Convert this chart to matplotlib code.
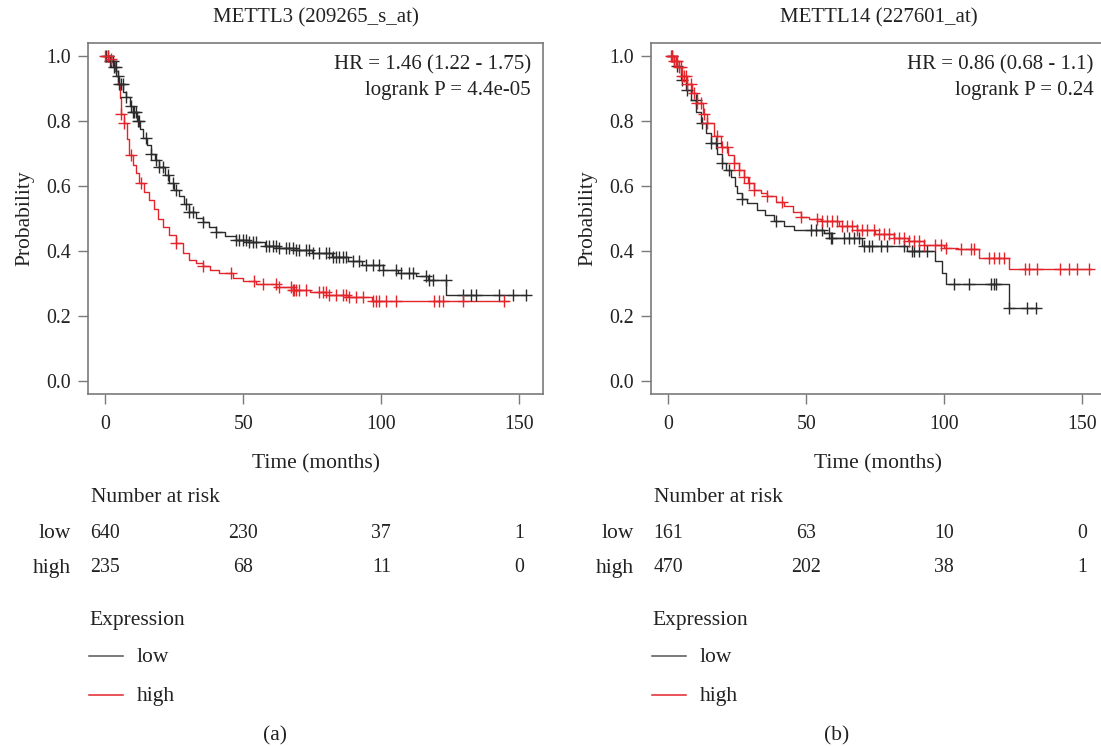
import numpy as np
import matplotlib
matplotlib.use("Agg")
import matplotlib.pyplot as plt
import matplotlib.transforms as mtrans

plt.rcParams['font.family'] = ['Liberation Serif', 'DejaVu Serif']

W, H = 1101, 746

# ---------------- data ----------------
titles = ["METTL3 (209265_s_at)", "METTL14 (227601_at)"]
hr_texts = [["HR = 1.46 (1.22 - 1.75)", "logrank P = 4.4e-05"],
            ["HR = 0.86 (0.68 - 1.1)", "logrank P = 0.24"]]
panel_labels = ["(a)", "(b)"]
risk_times = [0, 50, 100, 150]
groups = ["low", "high"]

# Panel a: low expression (black)
a_low_t = [0, 1.5, 3, 4, 5, 6.5, 7.5, 9, 10, 11.5, 12.5, 13.5, 15, 16.5, 18, 19.6, 21.5,
           23.2, 25, 26.8, 28.5, 30.4, 33, 35.3, 37.5, 40.1, 43.5, 47.3, 52, 58, 63, 69,
           75, 82, 88, 93, 100.5, 106, 112.6, 117, 123.6, 152.4]
a_low_s = [1.0, 0.985, 0.965, 0.94, 0.915, 0.89, 0.874, 0.845, 0.828, 0.80, 0.775, 0.748,
           0.725, 0.70, 0.68, 0.66, 0.635, 0.609, 0.588, 0.568, 0.545, 0.52, 0.503, 0.49,
           0.475, 0.46, 0.447, 0.435, 0.428, 0.414, 0.41, 0.404, 0.395, 0.383, 0.37, 0.358,
           0.343, 0.333, 0.322, 0.312, 0.264, 0.264]
a_low_cens = [0.2, 0.8, 1.5, 2.1, 2.7, 3.3, 3.9, 4.5, 5.1, 5.7, 6.3, 7.5, 9.3, 10.0, 10.5,
              11.2, 11.7, 12.3, 14.7, 16.5, 18.4, 19.6, 20.8, 22.6, 24.4, 25.6, 29.2, 30.4,
              31.6, 35.3, 40.1, 47.3, 48.5, 49.8, 51, 52.2, 53.4, 54.6, 58.2, 59.4, 60.6,
              61.8, 63, 65.5, 66.7, 67.9, 69.1, 70.3, 72.7, 73.9, 75.1, 77.5, 79.9, 81.2,
              82.4, 83.6, 84.8, 86, 87.2, 89.6, 92, 94.4, 96.9, 99.3, 100.5, 105.3, 107.1,
              110.1, 111.4, 116.2, 117.4, 118.6, 123.4, 129.5, 132.5, 134.3, 142.8, 147.6,
              152.4]

# Panel a: high expression (red)
a_high_t = [0, 1.5, 2.7, 3.5, 4.5, 5.2, 5.7, 6.9, 7.8, 8.7, 10, 11, 12.3, 14, 15.9, 17.5,
            19, 20.8, 23, 25.6, 28, 30.4, 33, 35.3, 38, 41.3, 46.1, 50, 54.6, 62, 67.9, 74,
            80, 88, 96.8, 145.8]
a_high_s = [1.0, 0.99, 0.977, 0.955, 0.915, 0.87, 0.823, 0.793, 0.745, 0.695, 0.665, 0.64,
            0.609, 0.583, 0.557, 0.53, 0.50, 0.475, 0.45, 0.424, 0.395, 0.373, 0.362, 0.353,
            0.342, 0.332, 0.317, 0.307, 0.297, 0.289, 0.281, 0.274, 0.266, 0.257, 0.245,
            0.245]
a_high_cens = [0, 1.0, 2.1, 5.7, 6.9, 9.3, 12.9, 25.6, 35.3, 45.5, 54, 57, 61.8, 63, 67.3,
               67.9, 68.5, 69.1, 70.3, 72.7, 77.5, 78.7, 79.9, 81.2, 83.6, 86, 87.2, 88.4,
               90.8, 93.2, 96.9, 98.1, 99.3, 101.7, 105.3, 119.2, 121, 122.2, 129.5, 144.6]

# Panel b: low expression (black)
b_low_t = [0, 2, 4.5, 6.5, 8.1, 10, 11.7, 13.5, 15.3, 17.5, 19.6, 21, 22.6, 24, 25, 26.8,
           28.6, 32.2, 35, 38.3, 42, 45.5, 56.4, 58.8, 70.3, 86.6, 96.8, 99.3, 100.5,
           123.4, 133.7]
b_low_s = [1.0, 0.97, 0.925, 0.895, 0.864, 0.828, 0.793, 0.762, 0.731, 0.70, 0.67, 0.65,
           0.629, 0.60, 0.578, 0.56, 0.547, 0.527, 0.51, 0.491, 0.478, 0.465, 0.455, 0.44,
           0.416, 0.399, 0.368, 0.332, 0.297, 0.225, 0.225]
b_low_cens = [1.4, 3.2, 5.1, 6.9, 9.9, 12.3, 15.3, 17.1, 19.6, 22, 26.8, 38.9, 51.6, 53.4,
              55.8, 58.2, 58.8, 59.4, 63.6, 65.4, 67.3, 69.1, 70.9, 72.7, 73.9, 77, 79.3,
              85.4, 88.4, 89, 90.8, 93.8, 103.5, 109, 116.8, 118, 118.6, 123.4, 130.1, 133.1]

# Panel b: high expression (red)
b_high_t = [0, 2, 3.3, 5, 6.9, 8.5, 10.5, 12.5, 14.1, 16.5, 19, 21.5, 23.8, 25.5, 27.4, 29,
            31, 33.5, 35.9, 39, 41.9, 45, 47.9, 51, 55.2, 62, 68.5, 75, 81.7, 87, 92.6, 100,
            105, 112.5, 123.4, 153]
b_high_s = [1.0, 0.985, 0.966, 0.94, 0.915, 0.885, 0.854, 0.823, 0.793, 0.755, 0.721,
            0.695, 0.67, 0.648, 0.629, 0.61, 0.588, 0.578, 0.568, 0.552, 0.537, 0.52, 0.506,
            0.498, 0.491, 0.478, 0.465, 0.452, 0.44, 0.43, 0.419, 0.41, 0.405, 0.378, 0.345,
            0.345]
b_high_cens = [0.8, 1.4, 2.0, 2.6, 3.2, 3.8, 4.5, 5.1, 5.7, 6.3, 6.9, 8.1, 9.3, 10.5, 11.7,
               12.9, 14.1, 17.7, 19.6, 21.4, 23.8, 25.6, 27.4, 29.2, 31, 35.9, 41.3, 47.9,
               54, 55.8, 57.6, 59.4, 61.2, 63, 64.8, 66.7, 68.5, 70.3, 72.1, 74.5, 76.3,
               78.1, 79.9, 81.7, 83.6, 85.4, 87.2, 89, 90.8, 92.6, 96.8, 98.7, 100.5, 106,
               109.5, 110.7, 116.2, 118, 119.8, 121.6, 129.4, 130.7, 133.7, 142.1, 145.2,
               148.2, 152.4]

a_risk_low = [640, 230, 37, 1]
a_risk_high = [235, 68, 11, 0]
b_risk_low = [161, 63, 10, 0]
b_risk_high = [470, 202, 38, 1]

panels = [
    dict(curves=[(a_low_t, a_low_s, a_low_cens), (a_high_t, a_high_s, a_high_cens)],
         risk=[a_risk_low, a_risk_high]),
    dict(curves=[(b_low_t, b_low_s, b_low_cens), (b_high_t, b_high_s, b_high_cens)],
         risk=[b_risk_low, b_risk_high]),
]

# ---------------- style ----------------
col_low = '#2b2b2b'
col_high = '#e3242b'
frame_col = '#7a7a7a'
txt_col = '#222222'
FS_WORD = 15.5
FS_NUM = 14.3
FS_MIX = 15

fig = plt.figure(figsize=(W / 100, H / 100), dpi=100)


def fx(px):
    return px / W


def fy(py):
    return 1 - py / H


ax_lefts = [88, 651]
ax_w, ax_top, ax_bot = 455, 43, 394
label_x_offsets = [0, 563]
panel_label_x = [275, 837]

for i, p in enumerate(panels):
    L = ax_lefts[i]
    ax = fig.add_axes([fx(L), fy(ax_bot), ax_w / W, (ax_bot - ax_top) / H])
    ax.set_xlim(-6.3, 158.6)
    ax.set_ylim(-0.04, 1.04)
    for sp in ax.spines.values():
        sp.set_color(frame_col)
        sp.set_linewidth(1.2)
    ax.set_xticks(risk_times)
    ax.set_yticks([0.0, 0.2, 0.4, 0.6, 0.8, 1.0])
    ax.set_yticklabels(["0.0", "0.2", "0.4", "0.6", "0.8", "1.0"])
    ax.tick_params(direction='out', length=7, width=1.0, color=frame_col,
                   labelsize=FS_NUM, labelcolor=txt_col, pad=8)
    ax.tick_params(axis='y', pad=5)

    for (t, s, c), col in zip(p['curves'], [col_low, col_high]):
        t = np.asarray(t, float)
        s = np.asarray(s, float)
        ax.step(t, s, where='post', color=col, lw=1.0, zorder=3)
        c = np.asarray(c, float)
        idx = np.searchsorted(t, c, side='right') - 1
        ax.plot(c, s[idx], linestyle='none', marker='+', markersize=8,
                markeredgewidth=1.0, color=col, zorder=4)

    ax.text(0.973, 0.937, hr_texts[i][0], transform=ax.transAxes, ha='right', va='center',
            fontsize=FS_MIX, color=txt_col)
    ax.text(0.973, 0.864, hr_texts[i][1], transform=ax.transAxes, ha='right', va='center',
            fontsize=FS_MIX, color=txt_col)

    ax.set_title(titles[i], fontsize=FS_MIX, color=txt_col, pad=15)
    ax.set_xlabel("Time (months)", fontsize=FS_WORD, color=txt_col, labelpad=15)
    ax.set_ylabel("Probability", fontsize=FS_WORD, color=txt_col, labelpad=9)

    # Number at risk table
    off = label_x_offsets[i]
    fig.text(fx(91 + off), fy(498), "Number at risk", ha='left', va='center',
             fontsize=FS_WORD, color=txt_col)
    blend = mtrans.blended_transform_factory(ax.transData, fig.transFigure)
    for g, row_y, vals in zip(groups, [534, 568], p['risk']):
        fig.text(fx(71 + off), fy(row_y), g, ha='right', va='center', fontsize=FS_WORD,
                 color=txt_col)
        for tt, v in zip(risk_times, vals):
            ax.text(tt, fy(row_y), str(v), transform=blend, ha='center', va='center',
                    fontsize=FS_NUM, color=txt_col, clip_on=False)

    # Expression legend
    fig.text(fx(89 + off), fy(620), "Expression", ha='left', va='center', fontsize=FS_WORD,
             color=txt_col)
    for g, line_y, text_y, col in zip(groups, [656, 695], [657, 696], ['#555555', col_high]):
        fig.add_artist(plt.Line2D([fx(89 + off), fx(123 + off)], [fy(line_y), fy(line_y)],
                                  color=col, lw=1.1, transform=fig.transFigure))
        fig.text(fx(137 + off), fy(text_y), g, ha='left', va='center', fontsize=FS_WORD,
                 color=txt_col)

    fig.text(fx(panel_label_x[i]), fy(736), panel_labels[i], ha='center', va='center',
             fontsize=FS_WORD, color=txt_col)

fig.savefig("out.png", dpi=100)
